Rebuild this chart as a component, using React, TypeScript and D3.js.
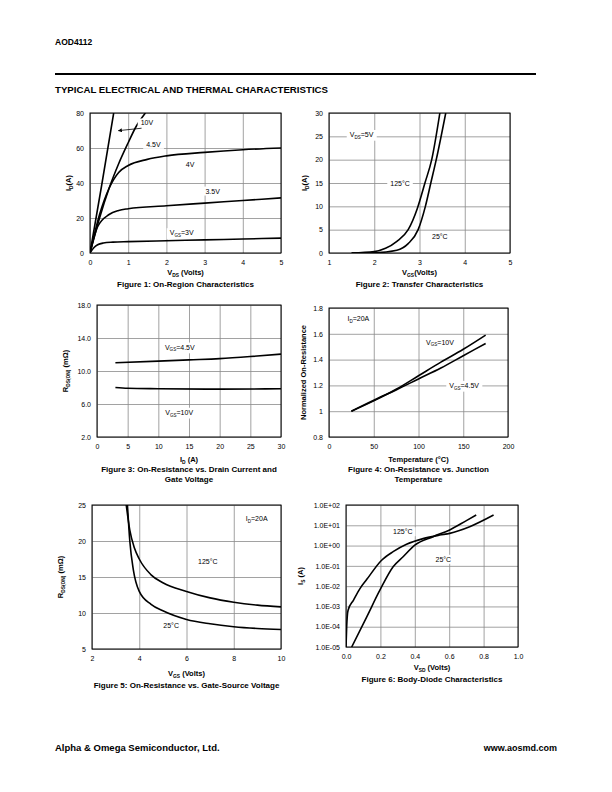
import React, { useRef, useEffect } from "react";
import * as d3 from "d3";

type Pt = [number, number];
type Part = [string, boolean?];

const WIDTH = 612;
const HEIGHT = 792;
const FONT = "Liberation Sans, Arial, sans-serif";

// Figure 1: Id vs Vds for several Vgs
const f1Vgs10: Pt[] = [[0, 0], [0.3, 38], [0.62, 80]];
const f1Vgs45: Pt[] = [[0, 0], [0.25, 20], [0.5, 37], [0.75, 51], [1.0, 63], [1.2, 72], [1.45, 80]];
const f1Vgs4: Pt[] = [[0, 0], [0.25, 22], [0.5, 37], [0.75, 46], [1, 50], [1.5, 53.5], [2, 55.5], [3, 57.5], [4, 59], [5, 60]];
const f1Vgs35: Pt[] = [[0, 0], [0.2, 15], [0.5, 22], [0.75, 24.3], [1, 25.3], [2, 27], [3, 28.5], [4, 30], [5, 31.5]];
const f1Vgs3: Pt[] = [[0, 0], [0.1, 3], [0.2, 4.7], [0.35, 5.7], [0.6, 6.2], [1, 6.5], [2, 7], [3, 7.5], [4, 8], [5, 8.5]];

// Figure 2: transfer characteristics
const f2T125: Pt[] = [[1.5, 0], [2, 0.3], [2.25, 1], [2.5, 2.5], [2.75, 5], [2.95, 9.5], [3.12, 15], [3.27, 20], [3.45, 30]];
const f2T25: Pt[] = [[1.5, 0], [2, 0.05], [2.5, 0.6], [2.75, 2], [2.97, 5], [3.13, 10], [3.25, 15], [3.37, 20], [3.58, 30]];

// Figure 3: Rds(on) vs Id
const f3Vgs45: Pt[] = [[3, 11], [10, 11.2], [15, 11.35], [20, 11.5], [25, 11.75], [30, 12.05]];
const f3Vgs10: Pt[] = [[3, 8], [5, 7.9], [10, 7.85], [20, 7.8], [30, 7.85]];

// Figure 4: normalized Rds(on) vs temperature
const f4Vgs10: Pt[] = [[25, 1], [50, 1.08], [75, 1.17], [100, 1.275], [125, 1.38], [150, 1.48], [175, 1.59]];
const f4Vgs45: Pt[] = [[25, 1], [50, 1.085], [75, 1.165], [100, 1.25], [125, 1.335], [150, 1.43], [175, 1.525]];

// Figure 5: Rds(on) vs Vgs
const f5T25: Pt[] = [[3.5, 25], [3.6, 20], [3.75, 16], [4, 13], [4.5, 11.2], [5, 10.3], [6, 9.1], [7, 8.5], [8, 8.1], [9, 7.85], [10, 7.7]];
const f5T125: Pt[] = [[3.45, 25], [3.6, 21.5], [3.8, 19], [4, 17.5], [4.5, 15.3], [5, 14.2], [6, 13], [7, 12.1], [8, 11.5], [9, 11.1], [10, 10.85]];

// Figure 6: body diode
const f6T125: Pt[] = [[0, 1e-5], [0.004, 1e-4], [0.012, 6.5e-4], [0.043, 2e-3], [0.081, 7.6e-3], [0.12, 2.1e-2], [0.207, 0.19], [0.274, 0.5], [0.352, 1.15], [0.448, 2.2], [0.545, 3.3], [0.603, 4.0], [0.719, 8.5], [0.858, 32]];
const f6T25: Pt[] = [[0.033, 1e-5], [0.12, 3e-4], [0.197, 6.3e-3], [0.274, 0.09], [0.332, 0.28], [0.4, 1.05], [0.506, 2.75], [0.603, 5.9], [0.7, 17], [0.757, 32]];

const f1XTicks = [0, 1, 2, 3, 4, 5];
const f1YTicks = [0, 20, 40, 60, 80];
const f2XTicks = [1, 2, 3, 4, 5];
const f2YTicks = [0, 5, 10, 15, 20, 25, 30];
const f3XTicks = [0, 5, 10, 15, 20, 25, 30];
const f3YTicks = [2, 6, 10, 14, 18];
const f4XTicks = [0, 50, 100, 150, 200];
const f4YTicks = [0.8, 1, 1.2, 1.4, 1.6, 1.8];
const f5XTicks = [2, 4, 6, 8, 10];
const f5YTicks = [5, 10, 15, 20, 25];
const f6XTicks = [0, 0.2, 0.4, 0.6, 0.8, 1.0];
const f6YTicks = [1e-5, 1e-4, 1e-3, 1e-2, 1e-1, 1, 10, 100];
const f6YLabels = ["1.0E-05", "1.0E-04", "1.0E-03", "1.0E-02", "1.0E-01", "1.0E+00", "1.0E+01", "1.0E+02"];

type Label = { at: Pt; parts: Part[] };

type Chart = {
  box: [number, number, number, number];
  xDomain: [number, number];
  yDomain: [number, number];
  log?: boolean;
  xTicks: number[];
  yTicks: number[];
  xFmt: (v: number, i: number) => string;
  yFmt: (v: number, i: number) => string;
  series: Pt[][];
  labels: Label[];
  xTitle: Part[];
  yTitle: Part[];
  caption: string[];
  xTitleY: number;
  captionY: number;
  yTitleX: number;
  arrow?: [Pt, Pt];
};

const charts: Chart[] = [
  {
    box: [90, 113, 281, 253],
    xDomain: [0, 5],
    yDomain: [0, 80],
    xTicks: f1XTicks,
    yTicks: f1YTicks,
    xFmt: (v) => String(v),
    yFmt: (v) => String(v),
    series: [f1Vgs10, f1Vgs45, f1Vgs4, f1Vgs35, f1Vgs3],
    labels: [
      { at: [1.49, 74.3], parts: [["10V"]] },
      { at: [1.66, 62.1], parts: [["4.5V"]] },
      { at: [2.62, 50.7], parts: [["4V"]] },
      { at: [3.21, 35.4], parts: [["3.5V"]] },
      { at: [2.4, 11.6], parts: [["V"], ["GS", true], ["=3V"]] },
    ],
    arrow: [[1.35, 71.3], [0.74, 69.9]],
    xTitle: [["V"], ["DS", true], [" (Volts)"]],
    yTitle: [["I"], ["D", true], ["(A)"]],
    caption: ["Figure 1: On-Region Characteristics"],
    xTitleY: 275,
    captionY: 287,
    yTitleX: 71,
  },
  {
    box: [329, 113, 510, 253],
    xDomain: [1, 5],
    yDomain: [0, 30],
    xTicks: f2XTicks,
    yTicks: f2YTicks,
    xFmt: (v) => String(v),
    yFmt: (v) => String(v),
    series: [f2T125, f2T25],
    labels: [
      { at: [1.72, 25.4], parts: [["V"], ["DS", true], ["=5V"]] },
      { at: [2.57, 14.8], parts: [["125°C"]] },
      { at: [3.45, 3.5], parts: [["25°C"]] },
    ],
    xTitle: [["V"], ["GS", true], ["(Volts)"]],
    yTitle: [["I"], ["D", true], ["(A)"]],
    caption: ["Figure 2: Transfer Characteristics"],
    xTitleY: 275,
    captionY: 287,
    yTitleX: 307,
  },
  {
    box: [97, 305, 281, 437],
    xDomain: [0, 30],
    yDomain: [2, 18],
    xTicks: f3XTicks,
    yTicks: f3YTicks,
    xFmt: (v) => String(v),
    yFmt: (v) => v.toFixed(1),
    series: [f3Vgs45, f3Vgs10],
    labels: [
      { at: [13.5, 12.9], parts: [["V"], ["GS", true], ["=4.5V"]] },
      { at: [13.4, 5.0], parts: [["V"], ["GS", true], ["=10V"]] },
    ],
    xTitle: [["I"], ["D", true], [" (A)"]],
    yTitle: [["R"], ["DS(ON)", true], [" (mΩ)"]],
    caption: ["Figure 3: On-Resistance vs. Drain Current and", "Gate Voltage"],
    xTitleY: 462,
    captionY: 472,
    yTitleX: 68,
  },
  {
    box: [329, 308, 508, 437],
    xDomain: [0, 200],
    yDomain: [0.8, 1.8],
    xTicks: f4XTicks,
    yTicks: f4YTicks,
    xFmt: (v) => String(v),
    yFmt: (v) => String(+v.toFixed(1)),
    series: [f4Vgs10, f4Vgs45],
    labels: [
      { at: [32.8, 1.715], parts: [["I"], ["D", true], ["=20A"]] },
      { at: [124, 1.535], parts: [["V"], ["GS", true], ["=10V"]] },
      { at: [151, 1.2], parts: [["V"], ["GS", true], ["=4.5V"]] },
    ],
    xTitle: [["Temperature (°C)"]],
    yTitle: [["Normalized On-Resistance"]],
    caption: ["Figure 4: On-Resistance vs. Junction", "Temperature"],
    xTitleY: 462,
    captionY: 472,
    yTitleX: 306,
  },
  {
    box: [92, 505, 281, 649],
    xDomain: [2, 10],
    yDomain: [5, 25],
    xTicks: f5XTicks,
    yTicks: f5YTicks,
    xFmt: (v) => String(v),
    yFmt: (v) => String(v),
    series: [f5T25, f5T125],
    labels: [
      { at: [8.97, 23.1], parts: [["I"], ["D", true], ["=20A"]] },
      { at: [6.9, 17.1], parts: [["125°C"]] },
      { at: [5.35, 8.3], parts: [["25°C"]] },
    ],
    xTitle: [["V"], ["GS", true], [" (Volts)"]],
    yTitle: [["R"], ["DS(ON)", true], [" (mΩ)"]],
    caption: ["Figure 5: On-Resistance vs. Gate-Source Voltage"],
    xTitleY: 676,
    captionY: 688,
    yTitleX: 63,
  },
  {
    box: [346, 505, 518, 647],
    xDomain: [0, 1],
    yDomain: [1e-5, 100],
    log: true,
    xTicks: f6XTicks,
    yTicks: f6YTicks,
    xFmt: (v) => v.toFixed(1),
    yFmt: (_v, i) => f6YLabels[i],
    series: [f6T125, f6T25],
    labels: [
      { at: [0.33, 4.8], parts: [["125°C"]] },
      { at: [0.566, 0.21], parts: [["25°C"]] },
    ],
    xTitle: [["V"], ["SD", true], [" (Volts)"]],
    yTitle: [["I"], ["S", true], [" (A)"]],
    caption: ["Figure 6: Body-Diode Characteristics"],
    xTitleY: 670,
    captionY: 682,
    yTitleX: 303,
  },
];

function richText(
  g: d3.Selection<SVGGElement, unknown, null, undefined>,
  x: number,
  y: number,
  parts: Part[],
  size: number,
  weight: string,
  anchor = "middle"
) {
  const t = g
    .append("text")
    .attr("x", x)
    .attr("y", y)
    .attr("text-anchor", anchor)
    .attr("font-family", FONT)
    .attr("font-size", size)
    .attr("font-weight", weight)
    .attr("fill", "#000");
  let down = false;
  parts.forEach(([s, sub]) => {
    const ts = t.append("tspan").text(s);
    if (sub && !down) {
      ts.attr("font-size", size * 0.65).attr("dy", size * 0.25);
      down = true;
    } else if (!sub && down) {
      ts.attr("dy", -size * 0.25);
      down = false;
    }
  });
  return t;
}

export default function App() {
  const svgRef = useRef<SVGSVGElement | null>(null);

  useEffect(() => {
    const svg = d3.select(svgRef.current);
    svg.selectAll("*").remove();

    svg.append("rect").attr("width", WIDTH).attr("height", HEIGHT).attr("fill", "#fff");

    const page = svg.append("g").attr("font-family", FONT).attr("font-weight", "bold");
    page.append("text").attr("x", 55).attr("y", 45).attr("font-size", 8.5).text("AOD4112");
    page.append("line").attr("x1", 55).attr("x2", 536).attr("y1", 74).attr("y2", 74)
      .attr("stroke", "#000").attr("stroke-width", 2);
    page.append("text").attr("x", 55).attr("y", 93).attr("font-size", 9)
      .attr("textLength", 273).attr("lengthAdjust", "spacingAndGlyphs")
      .text("TYPICAL ELECTRICAL AND THERMAL CHARACTERISTICS");
    page.append("text").attr("x", 55).attr("y", 751).attr("font-size", 9.5)
      .text("Alpha & Omega Semiconductor, Ltd.");
    page.append("text").attr("x", 557).attr("y", 751).attr("text-anchor", "end")
      .attr("font-size", 9).text("www.aosmd.com");

    const defs = svg.append("defs");
    defs.append("marker").attr("id", "arr").attr("viewBox", "0 0 10 10")
      .attr("refX", 9).attr("refY", 5).attr("markerWidth", 5).attr("markerHeight", 5)
      .attr("orient", "auto")
      .append("path").attr("d", "M0,0L10,5L0,10z").attr("fill", "#000");

    charts.forEach((c) => {
      const [x0, y0, x1, y1] = c.box;
      const x = d3.scaleLinear().domain(c.xDomain).range([x0, x1]);
      const y = c.log
        ? d3.scaleLog().domain(c.yDomain).range([y1, y0])
        : d3.scaleLinear().domain(c.yDomain).range([y1, y0]);
      const g = svg.append("g");
      const cx = (x0 + x1) / 2;

      // grid
      g.append("g")
        .attr("transform", `translate(0,${y1})`)
        .call(d3.axisBottom(x).tickValues(c.xTicks).tickSize(-(y1 - y0)).tickFormat(() => ""))
        .call((s) => s.select(".domain").remove())
        .selectAll("line").attr("stroke", "#8a8a8a").attr("stroke-width", 0.8);
      g.append("g")
        .attr("transform", `translate(${x0},0)`)
        .call(d3.axisLeft(y as any).tickValues(c.yTicks).tickSize(-(x1 - x0)).tickFormat(() => ""))
        .call((s) => s.select(".domain").remove())
        .selectAll("line").attr("stroke", "#8a8a8a").attr("stroke-width", 0.8);

      // tick labels
      g.append("g")
        .attr("transform", `translate(0,${y1})`)
        .call(d3.axisBottom(x).tickValues(c.xTicks).tickSize(0).tickPadding(7)
          .tickFormat((v, i) => c.xFmt(v as number, i)))
        .call((s) => s.select(".domain").remove())
        .selectAll("text").attr("font-family", FONT).attr("font-size", 7).attr("fill", "#000");
      g.append("g")
        .attr("transform", `translate(${x0},0)`)
        .call(d3.axisLeft(y as any).tickValues(c.yTicks).tickSize(0).tickPadding(6)
          .tickFormat((v: any, i: number) => c.yFmt(v as number, i)))
        .call((s) => s.select(".domain").remove())
        .selectAll("text").attr("font-family", FONT).attr("font-size", 7).attr("fill", "#000");

      // frame
      g.append("rect").attr("x", x0).attr("y", y0).attr("width", x1 - x0).attr("height", y1 - y0)
        .attr("fill", "none").attr("stroke", "#000").attr("stroke-width", 1);

      // curves
      const clip = `clip${x0}${y0}`;
      defs.append("clipPath").attr("id", clip).append("rect")
        .attr("x", x0).attr("y", y0).attr("width", x1 - x0).attr("height", y1 - y0);
      const line = d3.line<Pt>().x((d) => x(d[0])).y((d) => (y as any)(d[1])).curve(d3.curveMonotoneX);
      c.series.forEach((s) => {
        g.append("path").datum(s).attr("d", line).attr("fill", "none")
          .attr("stroke", "#000").attr("stroke-width", 1.6).attr("clip-path", `url(#${clip})`);
      });

      // labels with white backing
      c.labels.forEach((l) => {
        const lg = g.append("g");
        const t = richText(lg, x(l.at[0]), (y as any)(l.at[1]) + 2.5, l.parts, 7, "normal");
        const bb = (t.node() as SVGTextElement).getBBox();
        lg.insert("rect", "text").attr("x", bb.x - 3).attr("y", bb.y - 1)
          .attr("width", bb.width + 6).attr("height", bb.height + 2).attr("fill", "#fff");
      });

      if (c.arrow) {
        const [a, b] = c.arrow;
        g.append("line").attr("x1", x(a[0])).attr("y1", (y as any)(a[1]))
          .attr("x2", x(b[0])).attr("y2", (y as any)(b[1]))
          .attr("stroke", "#000").attr("stroke-width", 0.8).attr("marker-end", "url(#arr)");
      }

      // titles
      richText(g, cx, c.xTitleY, c.xTitle, 7.5, "bold");
      const yg = g.append("g").attr("transform", `translate(${c.yTitleX},${(y0 + y1) / 2}) rotate(-90)`);
      richText(yg, 0, 0, c.yTitle, 7.5, "bold");
      c.caption.forEach((cap, i) => {
        g.append("text").attr("x", cx).attr("y", c.captionY + i * 10).attr("text-anchor", "middle")
          .attr("font-family", FONT).attr("font-size", 8).attr("font-weight", "bold").text(cap);
      });
    });
  }, []);

  return (
    <svg
      ref={svgRef}
      width={WIDTH}
      height={HEIGHT}
      style={{ position: "absolute", left: 0, top: 0 }}
    />
  );
}
